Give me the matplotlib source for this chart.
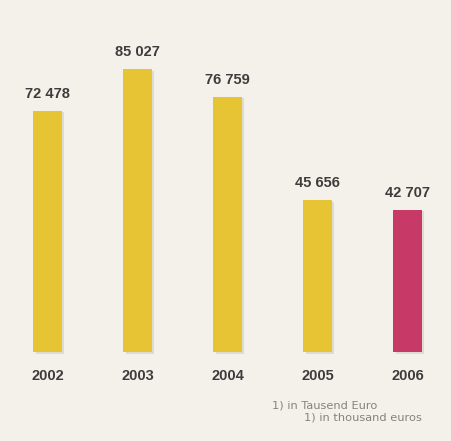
import matplotlib
matplotlib.use("Agg")
import matplotlib.pyplot as plt
from matplotlib.transforms import offset_copy

years = ["2002", "2003", "2004", "2005", "2006"]
values = [72478, 85027, 76759, 45656, 42707]
value_labels = ["72 478", "85 027", "76 759", "45 656", "42 707"]
bar_colors = ["#e6c433", "#e6c433", "#e6c433", "#e6c433", "#c73a68"]
footnote_de = "1) in Tausend Euro"
footnote_en = "1) in thousand euros"

bg = "#f3f1ea"
text_col = "#3e3c3c"
bold_font = ["Liberation Sans", "DejaVu Sans"]
note_font = ["DejaVu Sans"]

fig = plt.figure(figsize=(4.52, 4.41), dpi=100, facecolor=bg)
ax = fig.add_axes([0, 0, 1, 1])
ax.set_facecolor(bg)

x = list(range(len(years)))
width = 0.322

# soft shadow to the right of each bar
shadow_tr = offset_copy(ax.transData, fig=fig, x=2.5, y=-1.5, units="dots")
ax.bar(x, values, width=width, color="#b9b4a8", alpha=0.35,
       transform=shadow_tr, zorder=1)
ax.bar(x, values, width=width, color=bar_colors, zorder=2)

for xi, v, lab in zip(x, values, value_labels):
    ax.annotate(lab, (xi, v), xytext=(0, 12), textcoords="offset points",
                ha="center", va="center", fontsize=10.5, fontweight="bold",
                color=text_col, family=bold_font)

for xi, yr in zip(x, years):
    ax.annotate(yr, (xi, 0), xytext=(0, -17), textcoords="offset points",
                ha="center", va="center", fontsize=10.5, fontweight="bold",
                color=text_col, family=bold_font)

ax.text(377 / 452, 1 - 406 / 441, footnote_de, transform=fig.transFigure,
        ha="right", va="center", fontsize=8.2, color="#858380", family=note_font)
ax.text(422 / 452, 1 - 417 / 441, footnote_en, transform=fig.transFigure,
        ha="right", va="center", fontsize=8.2, color="#858380", family=note_font)

ax.set_xlim(-47.5 / 90, (452 - 47.5) / 90)
scale = 283 / 85027
ax.set_ylim(-89 / scale, (441 - 89) / scale)
ax.axis("off")

fig.savefig("out.png", dpi=100, facecolor=bg)
